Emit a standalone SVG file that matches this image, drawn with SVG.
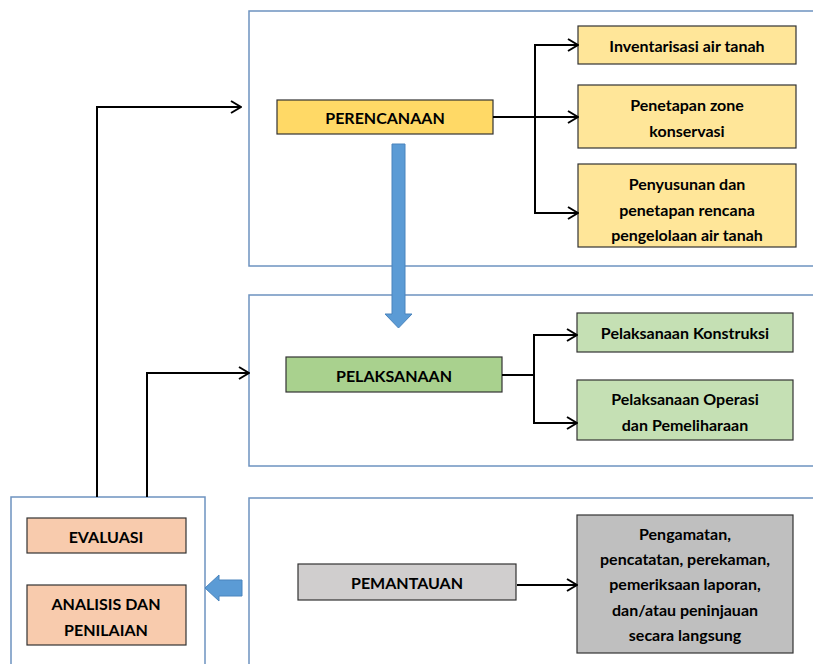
<svg xmlns="http://www.w3.org/2000/svg" width="813" height="664" viewBox="0 0 813 664">
<defs>
<marker id="arr" markerWidth="12" markerHeight="14" refX="11" refY="7" orient="auto" markerUnits="userSpaceOnUse">
<path d="M1,1 L11,7 L1,13" fill="none" stroke="#000" stroke-width="2"/>
</marker>
<style>
.panel{fill:#fff;stroke:#6D93C0;stroke-width:1.5}
.box{stroke:#333;stroke-width:1.2}
.t{font-family:Lato,"Open Sans",sans-serif;font-weight:bold;font-size:16px;fill:#000;text-anchor:middle;dominant-baseline:central}
.c{fill:none;stroke:#000;stroke-width:2}
.blue{fill:#5B9BD5;stroke:#4A84BD;stroke-width:1}
</style>
</defs>
<g id="panels">
<rect class="panel" x="249" y="11" width="580" height="255"/>
<rect class="panel" x="249" y="295" width="580" height="171"/>
<rect class="panel" x="249" y="498" width="580" height="180"/>
<rect class="panel" x="11" y="497" width="194" height="180"/>
</g>
<g id="perencanaan"><rect class="box" x="277" y="100" width="216" height="34" fill="#FFD966"/><text class="t" x="385" y="117">PERENCANAAN</text></g>
<g id="inventarisasi"><rect class="box" x="578" y="26" width="218" height="38" fill="#FFE699"/><text class="t" x="687" y="45">Inventarisasi air tanah</text></g>
<g id="zone"><rect class="box" x="578" y="85" width="218" height="63" fill="#FFE699"/><text class="t" x="687" y="104">Penetapan zone</text><text class="t" x="687" y="130">konservasi</text></g>
<g id="penyusunan"><rect class="box" x="578" y="164" width="218" height="83" fill="#FFE699"/><text class="t" x="687" y="183">Penyusunan dan</text><text class="t" x="687" y="209">penetapan rencana</text><text class="t" x="687" y="234">pengelolaan air tanah</text></g>
<g id="pelaksanaan"><rect class="box" x="286" y="357" width="216" height="35" fill="#A9D18E"/><text class="t" x="394" y="375">PELAKSANAAN</text></g>
<g id="konstruksi"><rect class="box" x="577" y="313" width="216" height="39" fill="#C5E0B4"/><text class="t" x="685" y="332">Pelaksanaan Konstruksi</text></g>
<g id="operasi"><rect class="box" x="577" y="380" width="216" height="60" fill="#C5E0B4"/><text class="t" x="685" y="398">Pelaksanaan Operasi</text><text class="t" x="685" y="424">dan Pemeliharaan</text></g>
<g id="pemantauan"><rect class="box" x="298" y="564" width="218" height="36" fill="#D0CECE"/><text class="t" x="407" y="582">PEMANTAUAN</text></g>
<g id="pengamatan"><rect class="box" x="577" y="515" width="216" height="138" fill="#BFBFBF"/><text class="t" x="685" y="533">Pengamatan,</text><text class="t" x="685" y="558">pencatatan, perekaman,</text><text class="t" x="685" y="583">pemeriksaan laporan,</text><text class="t" x="685" y="609">dan/atau peninjauan</text><text class="t" x="685" y="634">secara langsung</text></g>
<g id="evaluasi"><rect class="box" x="27" y="518" width="159" height="35" fill="#F8CBAD"/><text class="t" x="106" y="536">EVALUASI</text></g>
<g id="analisis"><rect class="box" x="27" y="585" width="159" height="60" fill="#F8CBAD"/><text class="t" x="106" y="603">ANALISIS DAN</text><text class="t" x="106" y="629">PENILAIAN</text></g>
<g id="connectors">
<path class="c" d="M493,117 H578" marker-end="url(#arr)"/>
<path class="c" d="M578,45 H535 V213 H578" marker-end="url(#arr)"/>
<path class="c" d="M535,45 H578" marker-end="url(#arr)"/>
<path class="c" d="M502,375 H534"/>
<path class="c" d="M577,335 H534 V423 H577" marker-end="url(#arr)"/>
<path class="c" d="M534,335 H577" marker-end="url(#arr)"/>
<path class="c" d="M517,585 H577" marker-end="url(#arr)"/>
<path class="c" d="M97,497 V107 H241" marker-end="url(#arr)"/>
<path class="c" d="M147,497 V373 H249" marker-end="url(#arr)"/>
<path class="blue" d="M392,144 H405 V314 H412 L398.5,328 L385,314 H392 Z"/>
<path class="blue" d="M242,580 H219 V575 L205,588 L219,601 V596 H242 Z"/>
</g>
</svg>
